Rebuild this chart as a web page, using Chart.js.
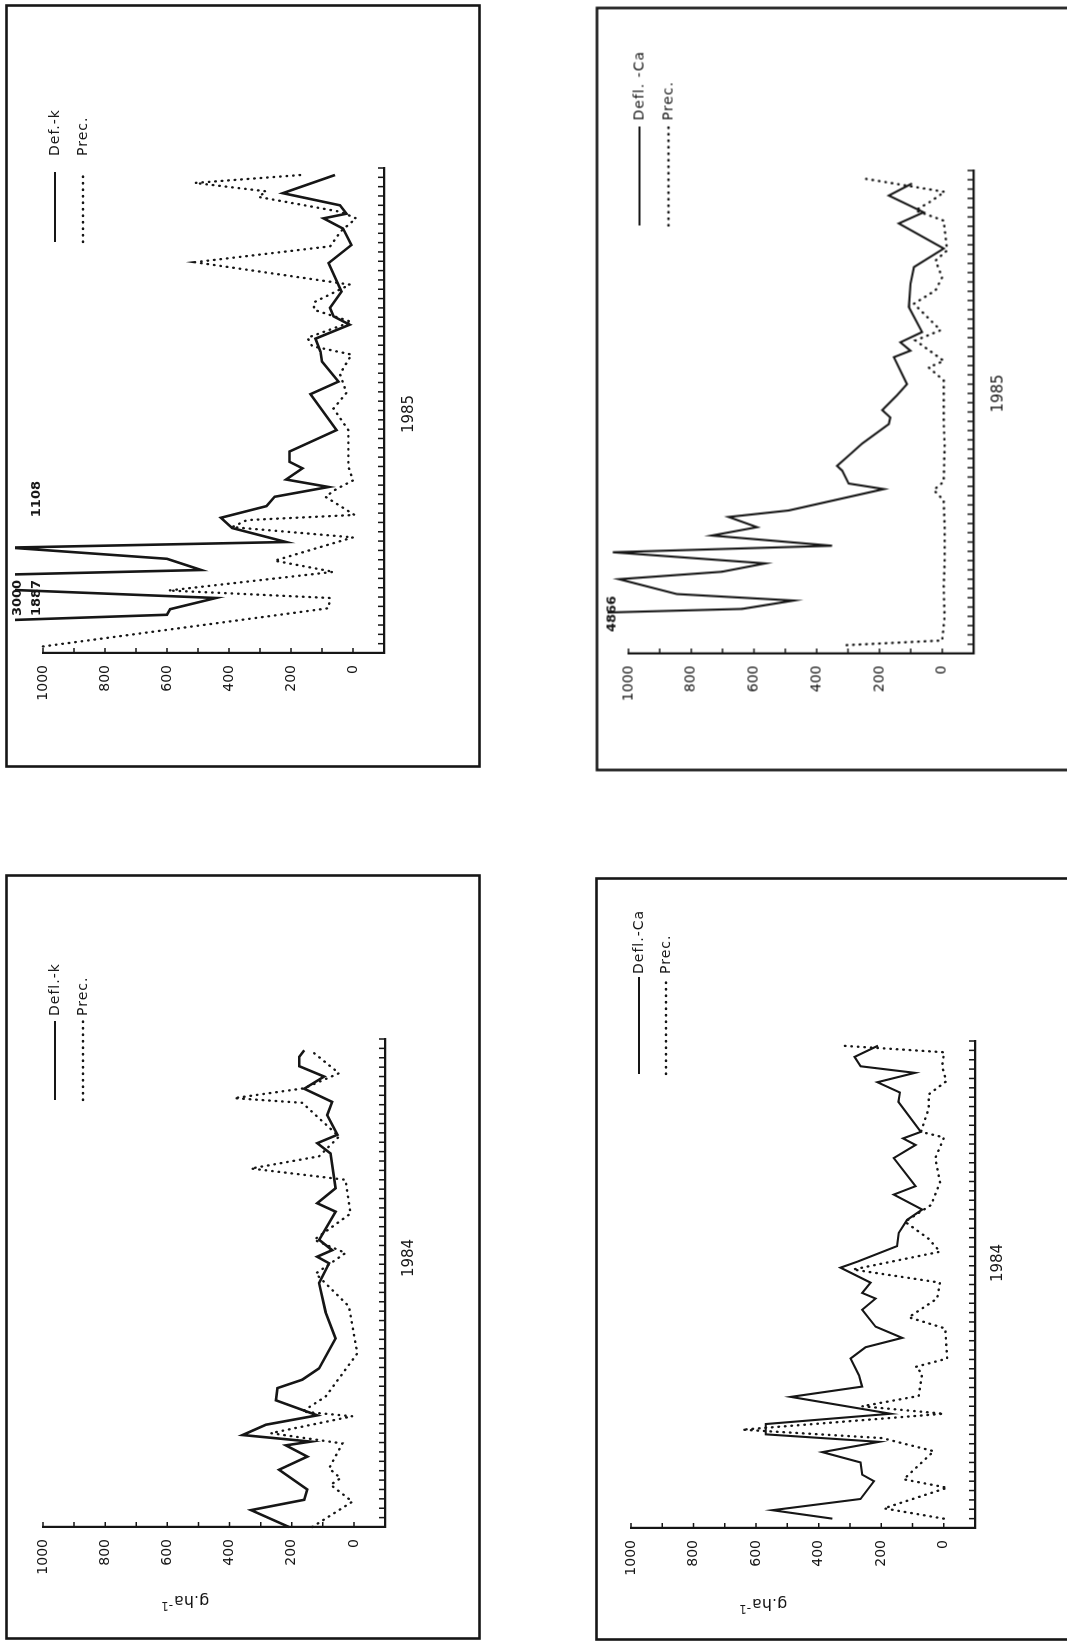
<!DOCTYPE html>
<html>
<head>
<meta charset="utf-8">
<script src="https://cdn.jsdelivr.net/npm/chart.js@4.4.1/dist/chart.umd.min.js"></script>
<style>
  html, body { margin: 0; padding: 0; background: #fff; }
  body { width: 1067px; height: 1645px; position: relative; overflow: hidden; }
  .panel { position: absolute; transform: rotate(-90deg); transform-origin: 50% 50%; }
  .panel canvas { position: absolute; left: 0; top: 0; }
</style>
</head>
<body>
<script>
// ---- data (weeks of the year, g.ha-1) ----
const weekCount = 52;
const valueLabels = [0, 200, 400, 600, 800, 1000];

// K, 1985
const k85DeflWeek = [1.4, 4.1, 4.7, 5.9, 7.8, 8.9, 10.1, 11.3, 11.9, 13.4, 14.5, 15.75, 16.75, 17.8, 18.6, 19.8, 20.5, 21.6, 23.9, 27.75, 29.1, 31.25, 32.3, 33.7, 35.2, 36.1, 37.0, 38.75, 41.8, 43.75, 45.5, 46.6, 47.1, 48.0, 49.3, 51.25];
const k85Defl = [3000, 600, 590, 442, 1887, 490, 600, 1108, 216, 390, 426, 279, 253, 79, 216, 163, 205, 205, 53, 137, 47, 100, 105, 121, 11, 63, 74, 37, 79, 5, 32, 95, 21, 42, 226, 58];
const k85PrecWeek = [0.7, 4.8, 5.9, 6.7, 8.7, 9.9, 12.4, 13.5, 14.25, 14.8, 16.75, 17.6, 18.5, 20.0, 23.9, 26.2, 27.9, 29.9, 32.0, 32.9, 33.8, 35.5, 36.8, 37.6, 39.5, 41.9, 43.6, 45.2, 46.6, 47.3, 48.9, 49.5, 50.4, 51.25];
const k85Prec = [1000, 79, 74, 595, 63, 253, 0, 390, 342, -5, 89, 53, 0, 15, 15, 63, 21, 42, 5, 132, 147, 5, 126, 126, 10, 510, 74, 40, -10, 40, 305, 280, 510, 168];

// Ca, 1985
const ca85DeflWeek = [1.0, 4.8, 5.7, 6.4, 8.0, 8.8, 9.7, 10.9, 11.6, 12.7, 13.6, 14.7, 15.4, 17.7, 18.3, 19.7, 20.2, 21.3, 22.6, 24.7, 25.4, 26.2, 27.8, 29.0, 31.9, 32.6, 33.5, 34.6, 37.3, 39.8, 41.6, 43.6, 46.3, 47.5, 49.3, 50.6];
const ca85Defl = [4866, 638, 473, 846, 1030, 702, 564, 1050, 351, 734, 590, 681, 489, 186, 298, 319, 335, 298, 255, 170, 165, 191, 144, 112, 154, 101, 133, 64, 106, 101, 90, -5, 138, 59, 170, 96];
const ca85PrecWeek = [0.9, 1.4, 4.0, 7.0, 10.0, 14.0, 16.5, 17.6, 18.5, 22.4, 25.0, 29.4, 30.8, 31.5, 33.7, 34.8, 37.65, 39.1, 40.5, 42.3, 43.4, 46.6, 47.7, 48.6, 49.7, 51.1];
const ca85Prec = [304, 0, -8, -5, -8, -8, -5, 27, -5, -8, -5, -5, 43, -5, 85, 5, 90, 21, 0, 21, -16, -5, 85, 40, -8, 243];

// K, 1984
const k84DeflWeek = [0.0, 1.8, 2.9, 4.0, 6.1, 7.5, 8.7, 9.1, 9.8, 10.9, 11.9, 13.5, 14.8, 15.7, 16.9, 20.1, 22.9, 26.0, 28.1, 28.8, 29.5, 30.6, 33.6, 34.5, 36.1, 39.8, 40.9, 41.8, 43.9, 45.3, 46.7, 48.0, 49.1, 50.1, 50.8];
const k84Defl = [209, 331, 160, 150, 241, 150, 219, 139, 358, 283, 118, 251, 246, 166, 112, 59, 91, 112, 80, 118, 70, 112, 59, 118, 59, 75, 118, 53, 86, 70, 160, 96, 176, 176, 160];
const k84PrecWeek = [0.0, 2.7, 4.5, 5.2, 6.25, 8.9, 10.0, 11.8, 12.3, 13.9, 18.5, 23.5, 27.0, 29.2, 30.6, 33.4, 37.0, 38.2, 39.5, 41.6, 45.2, 45.7, 46.75, 48.35, 50.65];
const k84Prec = [134, 5, 75, 43, 80, 37, 267, 5, 166, 91, -11, 16, 123, 27, 128, 11, 27, 331, 112, 48, 166, 385, 160, 48, 134];

// Ca, 1984
const ca84DeflWeek = [1.0, 1.9, 3.1, 5.0, 5.7, 7.0, 8.1, 9.2, 10.0, 11.1, 12.2, 14.0, 15.1, 16.3, 18.1, 19.3, 20.3, 21.5, 23.3, 24.5, 25.1, 26.2, 27.8, 28.5, 30.1, 31.5, 32.9, 34.0, 35.6, 36.5, 39.5, 40.9, 41.6, 42.3, 45.5, 46.5, 47.6, 48.6, 49.3, 50.3, 51.5];
const ca84Defl = [356, 548, 266, 223, 261, 266, 388, 207, 569, 569, 170, 489, 261, 271, 298, 250, 133, 218, 261, 218, 261, 234, 330, 271, 149, 144, 117, 69, 160, 90, 160, 90, 130, 73, 145, 140, 212, 92, 266, 285, 210];
const ca84PrecWeek = [1.0, 2.1, 4.3, 5.2, 8.2, 9.6, 10.5, 12.2, 13.0, 14.1, 16.5, 17.2, 18.1, 21.3, 22.5, 24.5, 26.2, 27.6, 29.5, 30.9, 32.7, 34.5, 36.9, 39.5, 41.7, 42.3, 44.8, 46.3, 47.7, 49.3, 50.8, 51.5];
const ca84Prec = [0, 191, -11, 128, 32, 197, 644, 0, 261, 80, 69, 90, -11, -5, 112, 21, 12, 290, 12, 49, 124, 40, 12, 27, -1, 73, 48, 48, -8, 5, -1, 326];

const ink = '#161616';
const fontFamily = "'DejaVu Sans', sans-serif";

function pairs(weeks, values) {
    return weeks.map((w, i) => ({ x: w, y: values[i] }));
}

// frame, inward ticks, legend, notes and the year / unit text
const decor = {
    id: 'decor',
    afterDraw(chart, args, o) {
        const { ctx, chartArea: a, scales: { x, y } } = chart;
        ctx.save();
        ctx.strokeStyle = ink;
        ctx.fillStyle = ink;

        // outer frame
        ctx.lineWidth = 2.6;
        ctx.strokeRect(1.5, 1.5, chart.width - 3, chart.height - 3);

        // ticks pointing into the plot
        ctx.lineWidth = 1.5;
        ctx.beginPath();
        for (let w = 0; w <= weekCount; w++) {
            const px = x.getPixelForValue(w);
            ctx.moveTo(px, a.bottom);
            ctx.lineTo(px, a.bottom - 6);
        }
        for (let v = -100; v <= 1000; v += 100) {
            const py = y.getPixelForValue(v);
            ctx.moveTo(a.left, py);
            ctx.lineTo(a.left + 5, py);
        }
        ctx.stroke();

        // legend
        const lg = o.legend;
        ctx.lineWidth = 2;
        ctx.beginPath();
        ctx.moveTo(lg.x, lg.y1);
        ctx.lineTo(lg.x + lg.len, lg.y1);
        ctx.stroke();
        ctx.setLineDash([0.5, 6]);
        ctx.lineCap = 'round';
        ctx.lineWidth = 2.4;
        ctx.beginPath();
        ctx.moveTo(lg.x, lg.y2);
        ctx.lineTo(lg.x + lg.len, lg.y2);
        ctx.stroke();
        ctx.setLineDash([]);
        ctx.font = '14px ' + fontFamily;
        ctx.letterSpacing = '1px';
        ctx.textBaseline = 'middle';
        ctx.textAlign = 'left';
        ctx.fillText(lg.labels[0], lg.textX, lg.y1);
        ctx.fillText(lg.labels[1], lg.textX, lg.y2);

        // values of the clipped peaks
        ctx.letterSpacing = '0px';
        ctx.textAlign = 'center';
        ctx.font = 'bold 13px ' + fontFamily;
        (o.notes || []).forEach(n => {
            ctx.fillText(n.text, x.getPixelForValue(n.week), y.getPixelForValue(n.value));
        });

        // year under the time axis
        ctx.font = '15px ' + fontFamily;
        ctx.fillText(o.year.text, o.year.x, o.year.y);

        // unit on the value axis
        if (o.unit) {
            ctx.translate(o.unit.x, o.unit.y);
            ctx.rotate(-Math.PI / 2);
            ctx.font = '16px ' + fontFamily;
            ctx.textAlign = 'right';
            ctx.fillText('g.ha', 8, 0);
            ctx.font = '12px ' + fontFamily;
            ctx.textAlign = 'left';
            ctx.fillText('-1', 9, -5);
        }
        ctx.restore();
    }
};

const panels = [
    { x0: 5, y1: 768, w: 764, h: 476, area: [115, 600, 38, 379], clipTop: 28, lineW: 2.6,
      defl: pairs(k85DeflWeek, k85Defl), prec: pairs(k85PrecWeek, k85Prec),
      legend: { x: 526, len: 70, textX: 612, y1: 50, y2: 78, labels: ['Def.-k', 'Prec.'] },
      notes: [{ text: '3000', week: 5.9, value: 1082 }, { text: '1887', week: 5.9, value: 1020 }, { text: '1108', week: 16.5, value: 1020 }],
      year: { text: '1985', x: 354, y: 404 }, unit: null },
    { x0: 595, y1: 771, w: 765, h: 476, area: [118, 601, 33, 378], clipTop: 21, lineW: 2.1,
      defl: pairs(ca85DeflWeek, ca85Defl), prec: pairs(ca85PrecWeek, ca85Prec),
      legend: { x: 546, len: 99, textX: 651, y1: 44, y2: 73, labels: ['Defl. -Ca', 'Prec.'] },
      notes: [{ text: '4866', week: 4.25, value: 1053 }],
      year: { text: '1985', x: 378, y: 403 }, unit: null },
    { x0: 5, y1: 1640, w: 766, h: 476, area: [113, 601, 38, 380], clipTop: 4, lineW: 2.6,
      defl: pairs(k84DeflWeek, k84Defl), prec: pairs(k84PrecWeek, k84Prec),
      legend: { x: 540, len: 79, textX: 624, y1: 50, y2: 78, labels: ['Defl.-k', 'Prec.'] },
      notes: [],
      year: { text: '1984', x: 382, y: 404 }, unit: { x: 40, y: 177 } },
    { x0: 595, y1: 1641, w: 764, h: 476, area: [113, 600, 36, 380], clipTop: 4, lineW: 2.1,
      defl: pairs(ca84DeflWeek, ca84Defl), prec: pairs(ca84PrecWeek, ca84Prec),
      legend: { x: 567, len: 97, textX: 667, y1: 44, y2: 71, labels: ['Defl.-Ca', 'Prec.'] },
      notes: [],
      year: { text: '1984', x: 378, y: 403 }, unit: { x: 38, y: 165 } }
];

const yW = 60, xH = 10;

panels.forEach(p => {
    const box = document.createElement('div');
    box.className = 'panel';
    box.style.width = p.w + 'px';
    box.style.height = p.h + 'px';
    box.style.left = (p.x0 + p.h / 2 - p.w / 2) + 'px';
    box.style.top = (p.y1 - p.w / 2 - p.h / 2) + 'px';
    const cv = document.createElement('canvas');
    cv.width = p.w;
    cv.height = p.h;
    box.appendChild(cv);
    document.body.appendChild(box);

    const clip = { left: 2, top: p.clipTop, right: 2, bottom: 2 };
    new Chart(cv, {
        type: 'line',
        data: {
            datasets: [
                { label: p.legend.labels[0], data: p.defl, borderColor: ink, borderWidth: p.lineW,
                  pointRadius: 0, tension: 0, clip: clip },
                { label: p.legend.labels[1], data: p.prec, borderColor: ink, borderWidth: 2.4,
                  borderDash: [0.5, 6], borderCapStyle: 'round', pointRadius: 0, tension: 0, clip: clip }
            ]
        },
        options: {
            responsive: false,
            animation: false,
            layout: {
                padding: { left: p.area[0] - yW, right: p.w - p.area[1], top: p.area[2], bottom: p.h - p.area[3] - xH }
            },
            plugins: {
                legend: { display: false },
                tooltip: { enabled: false },
                decor: { legend: p.legend, notes: p.notes, year: p.year, unit: p.unit }
            },
            scales: {
                x: {
                    type: 'linear', min: 0, max: weekCount,
                    ticks: { display: false },
                    grid: { display: false, drawTicks: false },
                    border: { color: ink, width: 2.2 },
                    afterFit(s) { s.height = xH; }
                },
                y: {
                    min: -100, max: 1000,
                    ticks: {
                        stepSize: 100, padding: 12, color: ink,
                        font: { family: fontFamily, size: 14 },
                        callback: v => valueLabels.includes(v) ? String(v) : ''
                    },
                    grid: { display: false, drawTicks: false },
                    border: { color: ink, width: 2.2 },
                    afterFit(s) { s.width = yW; }
                }
            }
        },
        plugins: [decor]
    });
});
</script>
</body>
</html>
